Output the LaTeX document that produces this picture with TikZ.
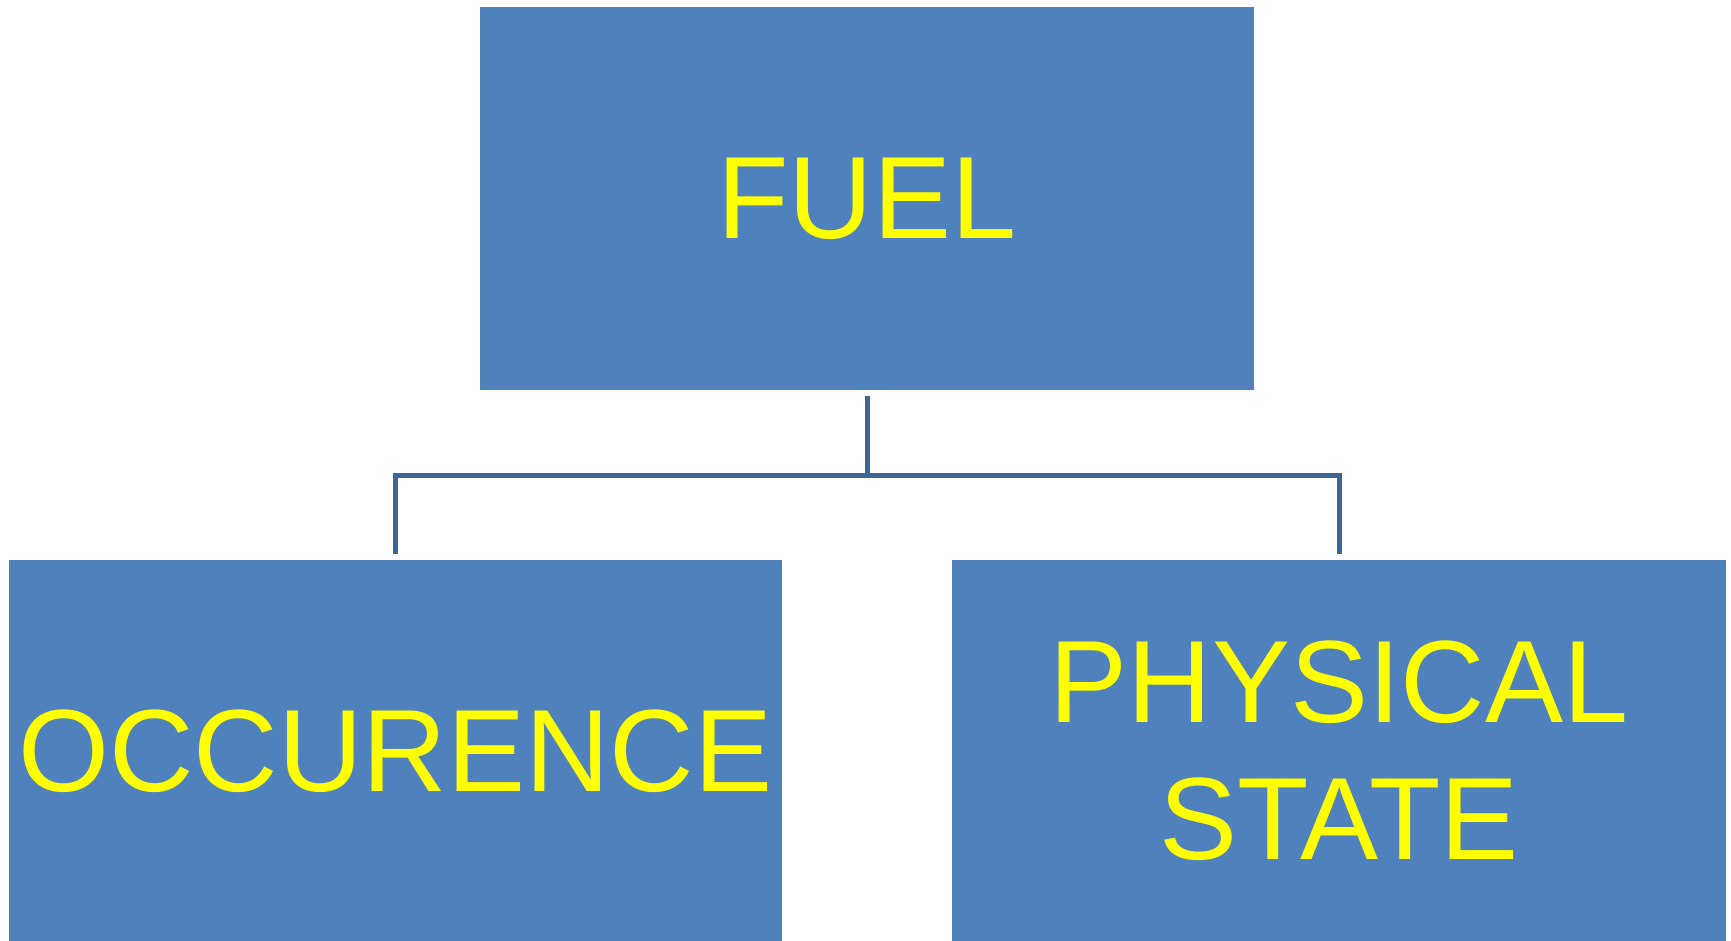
\documentclass[tikz,border=0pt]{standalone}
\usepackage{fontspec}
\setmainfont{Liberation Sans}
\definecolor{boxblue}{RGB}{79,129,189}
\definecolor{linkblue}{RGB}{61,100,150}
\definecolor{txtyellow}{RGB}{255,255,0}
\tikzset{
  catbox/.style={fill=boxblue, draw=none, inner sep=0pt, text=txtyellow,
    font=\fontsize{117}{137}\selectfont, align=center},
  conn/.style={draw=linkblue, line width=5pt}
}
\begin{document}
\begin{tikzpicture}[x=1pt,y=-1pt]
\useasboundingbox (0,0) rectangle (1731,941);
\node[catbox, minimum width=774pt, minimum height=383pt] (top) at (867,198.5) {FUEL};
\node[catbox, minimum width=773pt, minimum height=382pt] (left) at (395.5,751) {OCCURENCE};
\node[catbox, minimum width=774pt, minimum height=382pt] (right) at (1339,751) {PHYSICAL\\STATE};
\coordinate (j) at (867,475);
\draw[conn] ([yshift=-6pt]top.south) -- (j);
\draw[conn] ([yshift=6pt]left.north) |- (j) -| ([yshift=6pt]right.north);
\end{tikzpicture}
\end{document}
